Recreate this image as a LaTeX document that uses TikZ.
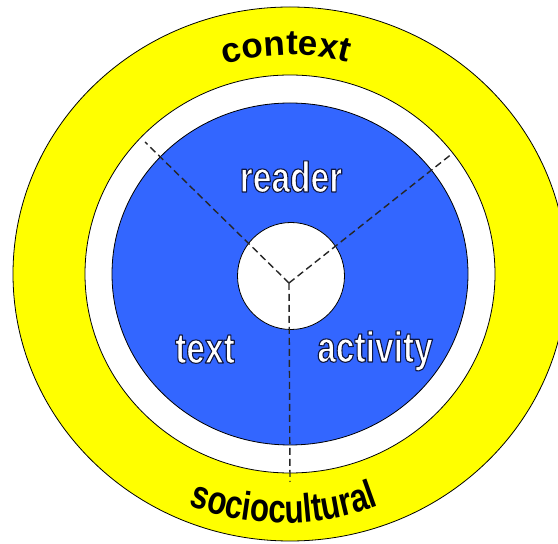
\documentclass[tikz,border=0pt]{standalone}
\usepackage{fontspec}
\setmainfont{Liberation Sans}
\newfontfamily\ringfont{Liberation Sans}[UprightFont=* Bold]
\newfontfamily\narrowfont{Liberation Sans}[UprightFont=* Bold,FakeStretch=0.78]
\usetikzlibrary{decorations.text}
\definecolor{ringyellow}{RGB}{255,255,0}
\definecolor{readerblue}{RGB}{51,102,255}
\newcommand{\rimtext}[1]{\special{pdf:literal direct 0.06 0.09 0.25 RG 1.1 w 1 j 2 Tr}#1\special{pdf:literal direct 0 Tr}}

\begin{document}
\begin{tikzpicture}[x=1pt,y=1pt,
		ring/.style={draw=black,line width=0.8pt},
		divider/.style={draw=black!85,line width=1.4pt,dash pattern=on 7pt off 4pt},
		partlbl/.style={text=white,anchor=base,inner sep=0pt,font=\narrowfont\fontsize{43}{48}\selectfont}]
			\useasboundingbox (0,0) rectangle (558,544);
			\coordinate (c) at (290,270);
			\filldraw[ring,fill=ringyellow] (c) ellipse [x radius=277,y radius=267];
			\filldraw[ring,fill=white] (c) ellipse [x radius=205,y radius=199];
			\filldraw[ring,fill=readerblue] (c) ellipse [x radius=178,y radius=171];
			\node[ring,fill=white,circle,minimum size=107pt,inner sep=0pt] (core) at (291,268) {};
			
			\coordinate (hub) at (289,261);
			\coordinate (readertext) at (145,402);
			\coordinate (readeractivity) at (453,391);
			\coordinate (textactivity) at (290,62);
			\path[divider]
			(hub) edge (readertext)
				  edge (readeractivity)
				  edge (textactivity);
			
			\node[partlbl] (reader) at (291,352) {\rimtext{reader}};
			\node[partlbl] (text) at (205,181) {\rimtext{text}};
			\node[partlbl] (activity) at (375,182) {\rimtext{activity}};
			
			\path[decorate,decoration={text along path,text align=center,
				text={|\ringfont\fontsize{35}{40}\selectfont|context}}]
			(c) ++(131:219) arc [start angle=131,end angle=51,radius=219];
			\path[decorate,decoration={text along path,text align=center,
				text={|\narrowfont\fontsize{40}{44}\selectfont|sociocultural}}]
			(284,291) ++(230:270) arc [start angle=230,end angle=310,radius=270];
		\end{tikzpicture}
\end{document}
